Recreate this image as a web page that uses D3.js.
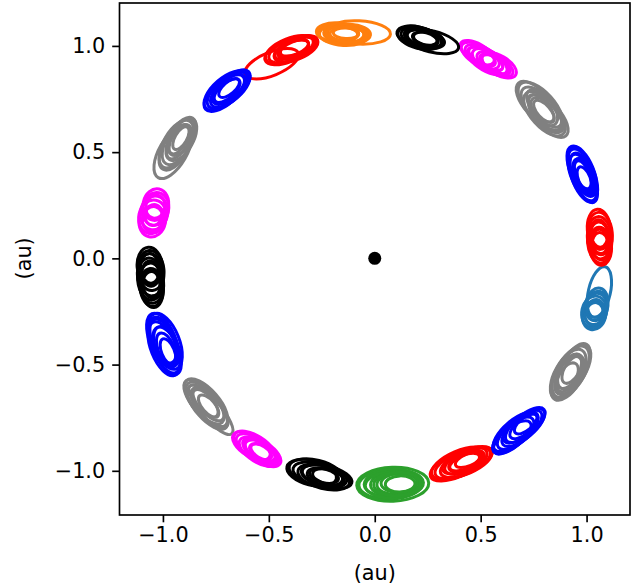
<!DOCTYPE html>
<head>
  <meta charset="utf-8">
  <script src="https://d3js.org/d3.v7.min.js"></script>
  <style>
    body { margin: 0; background: #fff; }
    svg { display: block; }
    text { font-family: "DejaVu Sans", sans-serif; }
  </style>
</head>

<body>
  <svg width="635" height="587"></svg>

  <script>
    const width = 635;
    const height = 587;

    // axis ticks
    const xTicks = [-1.0, -0.5, 0.0, 0.5, 1.0];
    const yTicks = [-1.0, -0.5, 0.0, 0.5, 1.0];

    // one entry per group of loops, going round the ring from the top
    const clusterColors = [
      '#ff7f0e', '#ff0000', '#0000ff', '#808080', '#ff00ff',
      '#000000', '#0000ff', '#808080', '#ff00ff', '#000000',
      '#2ca02c', '#ff0000', '#0000ff', '#808080', '#1f77b4',
      '#ff0000', '#0000ff', '#808080', '#ff00ff', '#000000'
    ];
    // centre of each group (au)
    const clusterCenters = [
      [-0.146, 1.057], [-0.392, 0.982], [-0.693, 0.793], [-0.930, 0.540], [-1.042, 0.214],
      [-1.057, -0.092], [-0.992, -0.408], [-0.793, -0.690], [-0.557, -0.898], [-0.259, -1.019],
      [0.085, -1.063], [0.415, -0.963], [0.684, -0.807], [0.925, -0.534], [1.043, -0.233],
      [1.062, 0.097], [0.982, 0.393], [0.792, 0.699], [0.533, 0.934], [0.222, 1.038]
    ];
    // direction of the long axis of the loops (degrees)
    const clusterTilts = [
      -3, 22, 41, 60, 78,
      -85, -68, -49, -32, -14,
      2, 23, 40, 60, 77,
      -85, -68, -48, -30, -14
    ];
    // loops of each group: [shift along, shift across, half length, half width] (au)
    const clusterLoops = [
      [[-0.03, 0.005, 0.10, 0.045], [-0.015, 0, 0.11, 0.047], [0, -0.005, 0.115, 0.05], [0.015, 0, 0.11, 0.045], [0.025, 0.005, 0.10, 0.042], [0.005, 0, 0.09, 0.04], [0.07, 0.01, 0.15, 0.055], [-0.01, 0, 0.075, 0.032], [0.01, 0.003, 0.06, 0.025], [0.02, -0.003, 0.085, 0.035]],
      [[-0.025, 0, 0.11, 0.05], [-0.01, 0.005, 0.12, 0.052], [0.005, 0, 0.12, 0.05], [0.02, -0.005, 0.11, 0.048], [0.03, 0, 0.10, 0.045], [-0.112, -0.026, 0.135, 0.055], [0, 0, 0.085, 0.036], [0.015, 0.003, 0.07, 0.03], [0.025, 0, 0.09, 0.04]],
      [[-0.02, 0, 0.12, 0.055], [-0.01, 0.005, 0.125, 0.058], [0, 0, 0.12, 0.055], [0.01, -0.005, 0.115, 0.052], [0.02, 0, 0.11, 0.05], [0.005, 0, 0.09, 0.045], [-0.005, 0, 0.075, 0.035], [0.01, 0.003, 0.06, 0.028], [0.015, 0, 0.1, 0.042]],
      [[-0.02, 0, 0.12, 0.058], [-0.005, 0.005, 0.125, 0.06], [0.01, 0, 0.12, 0.058], [0.025, -0.005, 0.11, 0.055], [0.04, 0, 0.10, 0.05], [-0.045, 0, 0.14, 0.065], [0.01, 0, 0.09, 0.042], [0.02, 0.003, 0.075, 0.035], [0.03, 0, 0.06, 0.028]],
      [[-0.04, 0, 0.075, 0.062], [-0.02, 0.003, 0.08, 0.065], [0, 0, 0.08, 0.065], [0.02, -0.003, 0.078, 0.062], [0.04, 0, 0.075, 0.06], [-0.03, 0, 0.06, 0.048], [-0.01, 0, 0.05, 0.04], [0.03, 0, 0.055, 0.045]],
      [[-0.055, 0, 0.09, 0.06], [-0.035, 0.003, 0.095, 0.062], [-0.015, 0, 0.10, 0.062], [0.005, -0.003, 0.10, 0.06], [0.025, 0, 0.095, 0.058], [0.045, 0, 0.09, 0.055], [0.055, 0.003, 0.085, 0.05], [-0.045, 0, 0.07, 0.045], [-0.02, 0, 0.06, 0.04], [0.03, 0, 0.065, 0.04]],
      [[-0.03, 0, 0.13, 0.06], [-0.015, 0.01, 0.14, 0.065], [0, 0, 0.14, 0.06], [0.015, -0.01, 0.135, 0.06], [0.03, 0, 0.12, 0.055], [0.01, 0.005, 0.10, 0.05], [-0.02, 0, 0.11, 0.05], [0.02, 0, 0.08, 0.038], [0.035, 0.003, 0.065, 0.03]],
      [[-0.02, 0, 0.13, 0.055], [-0.01, 0.005, 0.14, 0.06], [0, 0, 0.135, 0.057], [0.01, -0.005, 0.13, 0.055], [0.02, 0, 0.12, 0.05], [0, 0.01, 0.10, 0.045], [0.03, 0, 0.15, 0.045], [-0.01, 0, 0.08, 0.038], [0.01, 0.003, 0.065, 0.03]],
      [[-0.03, 0, 0.10, 0.05], [-0.015, 0.005, 0.11, 0.052], [0, 0, 0.11, 0.05], [0.015, -0.005, 0.105, 0.05], [0.03, 0, 0.10, 0.048], [0.02, 0, 0.08, 0.04], [0.035, -0.003, 0.07, 0.035], [0, 0, 0.075, 0.036], [0.025, 0, 0.055, 0.028]],
      [[-0.04, 0, 0.12, 0.058], [-0.02, 0.005, 0.13, 0.06], [0, 0, 0.13, 0.055], [0.02, -0.005, 0.125, 0.055], [0.035, 0, 0.12, 0.05], [0.01, 0, 0.10, 0.045], [0.03, -0.005, 0.09, 0.04], [0.02, 0, 0.07, 0.032], [0.04, 0, 0.075, 0.035]],
      [[0, 0, 0.17, 0.08], [-0.01, 0, 0.15, 0.07], [0.005, 0.003, 0.14, 0.065], [0.015, 0, 0.12, 0.06], [0, -0.003, 0.13, 0.062], [0.025, 0, 0.10, 0.05], [0.03, 0.005, 0.085, 0.045], [0.035, 0, 0.07, 0.038], [0.02, 0, 0.11, 0.055]],
      [[-0.03, 0, 0.135, 0.055], [-0.015, 0.005, 0.14, 0.058], [0, 0, 0.14, 0.055], [0.015, -0.005, 0.13, 0.052], [0.03, 0, 0.12, 0.05], [0, 0.005, 0.10, 0.045], [0.02, 0, 0.09, 0.04], [0.01, 0, 0.075, 0.032], [0.03, 0.003, 0.065, 0.028]],
      [[-0.04, 0, 0.12, 0.05], [-0.02, 0.005, 0.13, 0.055], [0, 0, 0.13, 0.052], [0.02, -0.003, 0.125, 0.05], [0.035, 0, 0.115, 0.048], [0.01, 0.005, 0.10, 0.045], [-0.05, -0.005, 0.11, 0.045], [0.025, 0, 0.08, 0.035], [0.04, 0.003, 0.065, 0.03]],
      [[-0.03, 0, 0.12, 0.06], [-0.015, 0.005, 0.13, 0.062], [0, 0, 0.135, 0.065], [0.015, -0.005, 0.13, 0.06], [0.03, 0, 0.12, 0.055], [-0.02, 0, 0.10, 0.05], [0, 0.005, 0.09, 0.045], [-0.03, 0, 0.075, 0.04], [0.01, 0, 0.07, 0.035]],
      [[-0.035, 0, 0.07, 0.055], [-0.02, 0.003, 0.075, 0.058], [-0.005, 0, 0.075, 0.055], [0.01, -0.003, 0.07, 0.052], [0.025, 0, 0.07, 0.05], [0.077, 0, 0.122, 0.052], [-0.03, 0, 0.055, 0.042], [-0.01, 0, 0.05, 0.038]],
      [[-0.04, 0, 0.095, 0.055], [-0.02, 0.003, 0.10, 0.058], [0, 0, 0.10, 0.058], [0.02, -0.003, 0.10, 0.056], [0.04, 0, 0.09, 0.052], [0, 0, 0.075, 0.045], [-0.02, 0, 0.065, 0.04], [0.02, 0, 0.06, 0.036], [0.04, 0, 0.065, 0.04]],
      [[-0.03, 0, 0.115, 0.05], [-0.015, 0.005, 0.125, 0.052], [0, 0, 0.13, 0.055], [0.015, -0.005, 0.12, 0.05], [0.03, 0, 0.11, 0.045], [0.01, 0.003, 0.09, 0.04], [-0.01, 0, 0.10, 0.045], [0, 0, 0.07, 0.032], [0.02, 0, 0.06, 0.028]],
      [[-0.04, 0, 0.13, 0.06], [-0.02, 0.005, 0.14, 0.065], [0, 0, 0.135, 0.06], [0.02, -0.005, 0.13, 0.062], [0.04, 0, 0.125, 0.058], [0, 0.01, 0.11, 0.05], [0.03, 0, 0.10, 0.045], [-0.01, 0, 0.08, 0.038], [0.01, 0, 0.065, 0.03]],
      [[-0.06, 0.005, 0.09, 0.042], [-0.04, 0, 0.10, 0.045], [-0.02, 0, 0.10, 0.045], [0, -0.005, 0.105, 0.048], [0.02, 0, 0.10, 0.045], [0.04, 0, 0.095, 0.042], [0.06, 0.005, 0.09, 0.045], [0.04, 0, 0.07, 0.032], [0.02, 0, 0.06, 0.028], [-0.03, 0, 0.07, 0.032]],
      [[-0.02, 0, 0.10, 0.047], [-0.01, -0.003, 0.105, 0.05], [0, 0, 0.10, 0.045], [0.01, 0.003, 0.095, 0.042], [0.02, 0, 0.09, 0.04], [0.05, -0.005, 0.13, 0.05], [0, 0, 0.075, 0.035], [0.015, 0, 0.06, 0.028], [0.03, 0, 0.07, 0.032]]
    ];
    // the star at the origin
    const star = [0, 0];

    const margin = { left: 119.5, right: 5, top: 3, bottom: 72 };

    const x = d3.scaleLinear()
      .domain([-1.205, 1.205])
      .range([margin.left, width - margin.right]);
    const y = d3.scaleLinear()
      .domain([-1.208, 1.202])
      .range([height - margin.bottom, margin.top]);
    const k = x(1) - x(0);

    const svg = d3.select('svg');

    // loops
    const groups = svg.selectAll('g.cluster')
      .data(clusterColors.map((c, i) => ({
        color: c,
        center: clusterCenters[i],
        tilt: clusterTilts[i],
        loops: clusterLoops[i]
      })))
      .enter().append('g')
      .attr('class', 'cluster')
      .attr('transform', d => `translate(${x(d.center[0])},${y(d.center[1])}) rotate(${-d.tilt})`);

    groups.selectAll('ellipse')
      .data(d => d.loops.map(l => ({ l, color: d.color })))
      .enter().append('ellipse')
      .attr('cx', d => d.l[0] * k)
      .attr('cy', d => -d.l[1] * k)
      .attr('rx', d => d.l[2] * k)
      .attr('ry', d => d.l[3] * k)
      .attr('fill', 'none')
      .attr('stroke', d => d.color)
      .attr('stroke-width', 3);

    svg.append('circle')
      .attr('cx', x(star[0]))
      .attr('cy', y(star[1]))
      .attr('r', 6.5)
      .attr('fill', '#000');

    // axes
    const fmt = d3.format('.1f');
    const xAxis = svg.append('g')
      .attr('transform', `translate(0,${height - margin.bottom})`)
      .call(d3.axisBottom(x).tickValues(xTicks).tickFormat(fmt).tickSize(7.3).tickPadding(5));
    const yAxis = svg.append('g')
      .attr('transform', `translate(${margin.left},0)`)
      .call(d3.axisLeft(y).tickValues(yTicks).tickFormat(fmt).tickSize(7.3).tickPadding(7));

    [xAxis, yAxis].forEach(a => {
      a.select('.domain').remove();
      a.selectAll('line').attr('stroke', '#000').attr('stroke-width', 1.67);
      a.selectAll('text')
        .attr('fill', '#000')
        .style('font-family', '"DejaVu Sans", sans-serif')
        .style('font-size', '20.8px');
    });

    svg.append('rect')
      .attr('x', margin.left)
      .attr('y', margin.top)
      .attr('width', width - margin.right - margin.left)
      .attr('height', height - margin.bottom - margin.top)
      .attr('fill', 'none')
      .attr('stroke', '#000')
      .attr('stroke-width', 1.67);

    svg.append('text')
      .attr('x', x(0))
      .attr('y', 580)
      .attr('text-anchor', 'middle')
      .style('font-size', '20.8px')
      .text('(au)');

    svg.append('text')
      .attr('transform', `translate(31,${y(0)}) rotate(-90)`)
      .attr('text-anchor', 'middle')
      .style('font-size', '20.8px')
      .text('(au)');
  </script>
</body>
